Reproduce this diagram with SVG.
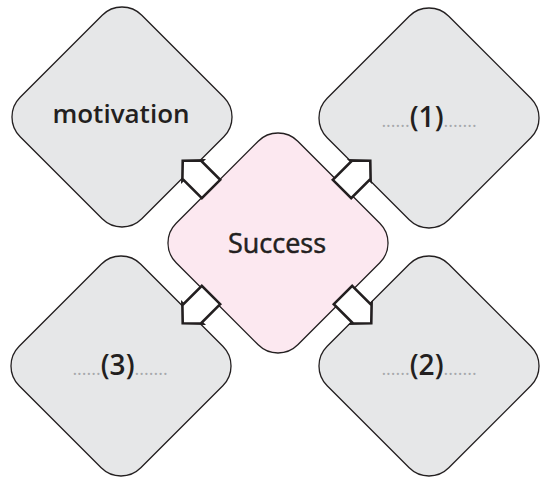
<svg xmlns="http://www.w3.org/2000/svg" width="544" height="477" viewBox="0 0 544 477">
<style>
.node{stroke:#231f20;stroke-width:1.3}
.out{fill:#e6e7e8}
.center{fill:#fce8f0}
.lbl{font-family:"Open Sans","Noto Sans",sans-serif;fill:#231f20;text-anchor:middle}
.dots{fill:#a7a9ac;font-size:18px;font-weight:400}
.arr{fill:#ffffff;stroke:#231f20;stroke-width:2.6;stroke-linejoin:miter}
</style>
<defs>
<rect id="dia" x="-86" y="-86" width="172" height="172" rx="28" ry="28" transform="rotate(45)"/>
<path id="arrow" d="M0,-13 L26,-13 L26,-14.5 L40,0 L26,14.5 L26,13 L0,13 Z"/>
</defs>
<rect width="544" height="477" fill="#ffffff"/>
<g id="node-motivation">
<use href="#dia" class="node out" transform="translate(122,117)"/>
<text class="lbl" x="121" y="123" font-size="26" font-weight="600">motivation</text>
</g>
<g id="node-1">
<use href="#dia" class="node out" transform="translate(429,118)"/>
<text class="lbl" x="429" y="127" font-size="28" font-weight="600"><tspan class="dots">......</tspan>(1)<tspan class="dots">.......</tspan></text>
</g>
<g id="node-3">
<use href="#dia" class="node out" transform="translate(121,366)"/>
<text class="lbl" x="120" y="375" font-size="28" font-weight="600"><tspan class="dots">......</tspan>(3)<tspan class="dots">.......</tspan></text>
</g>
<g id="node-2">
<use href="#dia" class="node out" transform="translate(429,366)"/>
<text class="lbl" x="429" y="375" font-size="28" font-weight="600"><tspan class="dots">......</tspan>(2)<tspan class="dots">.......</tspan></text>
</g>
<g id="node-success">
<use href="#dia" class="node center" transform="translate(278,243)"/>
<text class="lbl" x="277" y="253" font-size="27" stroke="#231f20" stroke-width="0.5">Success</text>
</g>
<g id="connectors">
<use href="#arrow" class="arr" transform="translate(211,189) rotate(-135)"/>
<use href="#arrow" class="arr" transform="translate(342,189) rotate(-45)"/>
<use href="#arrow" class="arr" transform="translate(211,295) rotate(135)"/>
<use href="#arrow" class="arr" transform="translate(343,295) rotate(45)"/>
</g>
</svg>
